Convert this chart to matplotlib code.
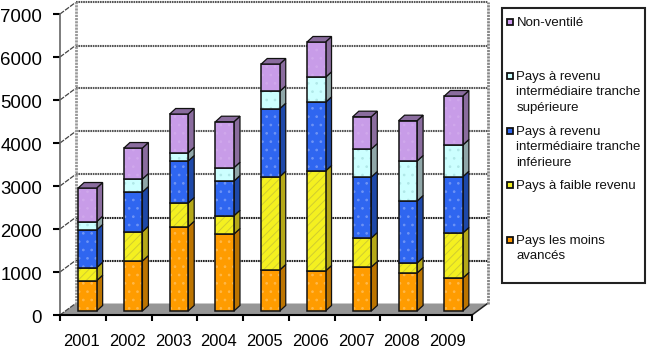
import matplotlib
matplotlib.use("Agg")
import matplotlib.pyplot as plt
from matplotlib.patches import Rectangle
from matplotlib.transforms import ScaledTranslation

plt.rcParams["font.family"] = ["Liberation Sans", "DejaVu Sans"]
plt.rcParams["hatch.linewidth"] = 0.7

years = ["2001", "2002", "2003", "2004", "2005", "2006", "2007", "2008", "2009"]
pma = [705, 1163, 1960, 1790, 953, 930, 1023, 884, 767]
faible = [302, 681, 552, 426, 2170, 2326, 675, 232, 1047]
inferieure = [877, 923, 976, 807, 1582, 1597, 1418, 1442, 1309]
superieure = [193, 303, 193, 310, 404, 582, 651, 930, 737]
non_ventile = [783, 720, 900, 1069, 635, 821, 752, 938, 1140]

series = [pma, faible, inferieure, superieure, non_ventile]
front_cols = ["#FF9C00", "#F4F020", "#2F66F0", "#CCFFFF", "#C89CE8"]
side_cols = ["#BC7400", "#B5A818", "#1E48A8", "#8FA6A8", "#8A6C9E"]
hatches = ["..", "////", "..", "..", ".."]
hatch_cols = ["#FFB848", "#D0CC30", "#6E94F6", "#B0E8E8", "#D0A8EC"]

legend_labels = [
    ["Non-ventilé"],
    ["Pays à revenu", "intermédiaire tranche", "supérieure"],
    ["Pays à revenu", "intermédiaire tranche", "inférieure"],
    ["Pays à faible revenu"],
    ["Pays les moins", "avancés"],
]
legend_cols = ["#CC99EE", "#CCFFFF", "#2F66F0", "#F2F022", "#FF9900"]
legend_y = [22, 76, 131, 185, 240]

W, H = 651, 354
fig = plt.figure(figsize=(W / 100, H / 100), dpi=100)
ax = fig.add_axes([60 / W, 1 - 315 / H, 412 / W, 301 / H])
ax.set_xlim(0, 9)
ax.set_ylim(0, 7000)

# profondeur du mur et des barres, en unites de donnees
wall_dx = 15.5 / 412 * 9
wall_dy = 11.5 / 301 * 7000
bar_w = 18.5 / 412 * 9
bar_off = 4.5 / 412 * 9 + (0.5 - bar_w / 2)
bar_lift = 4 / 301 * 7000
bar_dx = 6 / 412 * 9
bar_dy = 5.5 / 301 * 7000

# sol
ax.fill([0, 9, 9 + wall_dx, wall_dx], [0, 0, wall_dy, wall_dy],
        color="#969696", lw=0, clip_on=False, zorder=1)
ax.plot([9, 9 + wall_dx], [0, wall_dy], color="#222222", lw=1.1, clip_on=False, zorder=1)

# grille du fond
stipple = (0, (0.8, 0.35))
for v in range(0, 8000, 1000):
    if v > 0:
        col = "#222222" if v <= 2000 else "#555555"
        ax.plot([wall_dx, 9 + wall_dx], [v + wall_dy, v + wall_dy], color=col,
                lw=1.5, ls=stipple, clip_on=False, zorder=1)
    ax.plot([0, wall_dx], [v, v + wall_dy], color="#444444", lw=0.9,
            ls=(0, (4, 1)), clip_on=False, zorder=1)
ax.plot([wall_dx, wall_dx], [wall_dy, 7000 + wall_dy], color="#999999", lw=2,
        ls=stipple, clip_on=False, zorder=1)
ax.plot([9 + wall_dx, 9 + wall_dx], [wall_dy, 7000 + wall_dy], color="#888888", lw=2,
        ls=stipple, clip_on=False, zorder=1)

# barres empilees
for i in range(len(years)):
    x0 = i + bar_off
    bottom = bar_lift
    for s, vals in enumerate(series):
        top = bottom + vals[i]
        ax.fill([x0 + bar_w, x0 + bar_w + bar_dx, x0 + bar_w + bar_dx, x0 + bar_w],
                [bottom, bottom + bar_dy, top + bar_dy, top],
                fc=side_cols[s], ec="#111111", lw=0.9, clip_on=False, zorder=3)
        ax.bar(x0, vals[i], bar_w, bottom=bottom, align="edge", color=front_cols[s],
               edgecolor=hatch_cols[s], hatch=hatches[s], linewidth=0, clip_on=False, zorder=3)
        ax.bar(x0, vals[i], bar_w, bottom=bottom, align="edge", fill=False,
               edgecolor="#111111", linewidth=1.1, clip_on=False, zorder=3)
        bottom = top
    ax.fill([x0, x0 + bar_dx, x0 + bar_w + bar_dx, x0 + bar_w],
            [bottom, bottom + bar_dy, bottom + bar_dy, bottom],
            fc=side_cols[-1], ec="#111111", lw=0.9, clip_on=False, zorder=3)

for side in ["top", "right"]:
    ax.spines[side].set_visible(False)
ax.spines["left"].set_color("#666666")
ax.spines["left"].set_linewidth(1.2)
ax.spines["bottom"].set_color("black")
ax.spines["bottom"].set_linewidth(1.5)
ax.set_yticks(range(0, 8000, 1000))
ax.tick_params(axis="y", length=5, width=1.5, pad=8, labelsize=13.4)
down = ScaledTranslation(0, -1.5 / 100, fig.dpi_scale_trans)
for lab in ax.get_yticklabels():
    lab.set_transform(lab.get_transform() + down)
ax.set_xticks(range(10))
ax.set_xticklabels([])
ax.tick_params(axis="x", length=4, width=1.5)
ax.set_xticks([i + 0.5 for i in range(9)], minor=True)
ax.set_xticklabels(years, minor=True, fontsize=11.9)
ax.tick_params(axis="x", which="minor", length=0, pad=13.5)
left = ScaledTranslation(-1.5 / 100, 0, fig.dpi_scale_trans)
for lab in ax.get_xticklabels(minor=True):
    lab.set_transform(lab.get_transform() + left)

# legende, placee a la main en pixels
lg = fig.add_axes([0, 0, 1, 1])
lg.set_xlim(0, W)
lg.set_ylim(H, 0)
lg.axis("off")
lg.patch.set_alpha(0)
lg.add_patch(Rectangle((501.5, 8), 143, 275, fc="white", ec="#222222", lw=1.5))
for lines, col, y in zip(legend_labels, legend_cols, legend_y):
    lg.add_patch(Rectangle((507, y - 3), 5.5, 6, fc=col, ec="#111111", lw=1.3))
    for k, line in enumerate(lines):
        lg.text(516.5, y + 1 + k * 15.4, line, fontsize=9.55, va="center", ha="left", color="#111111")

fig.savefig("out.png", dpi=100)
